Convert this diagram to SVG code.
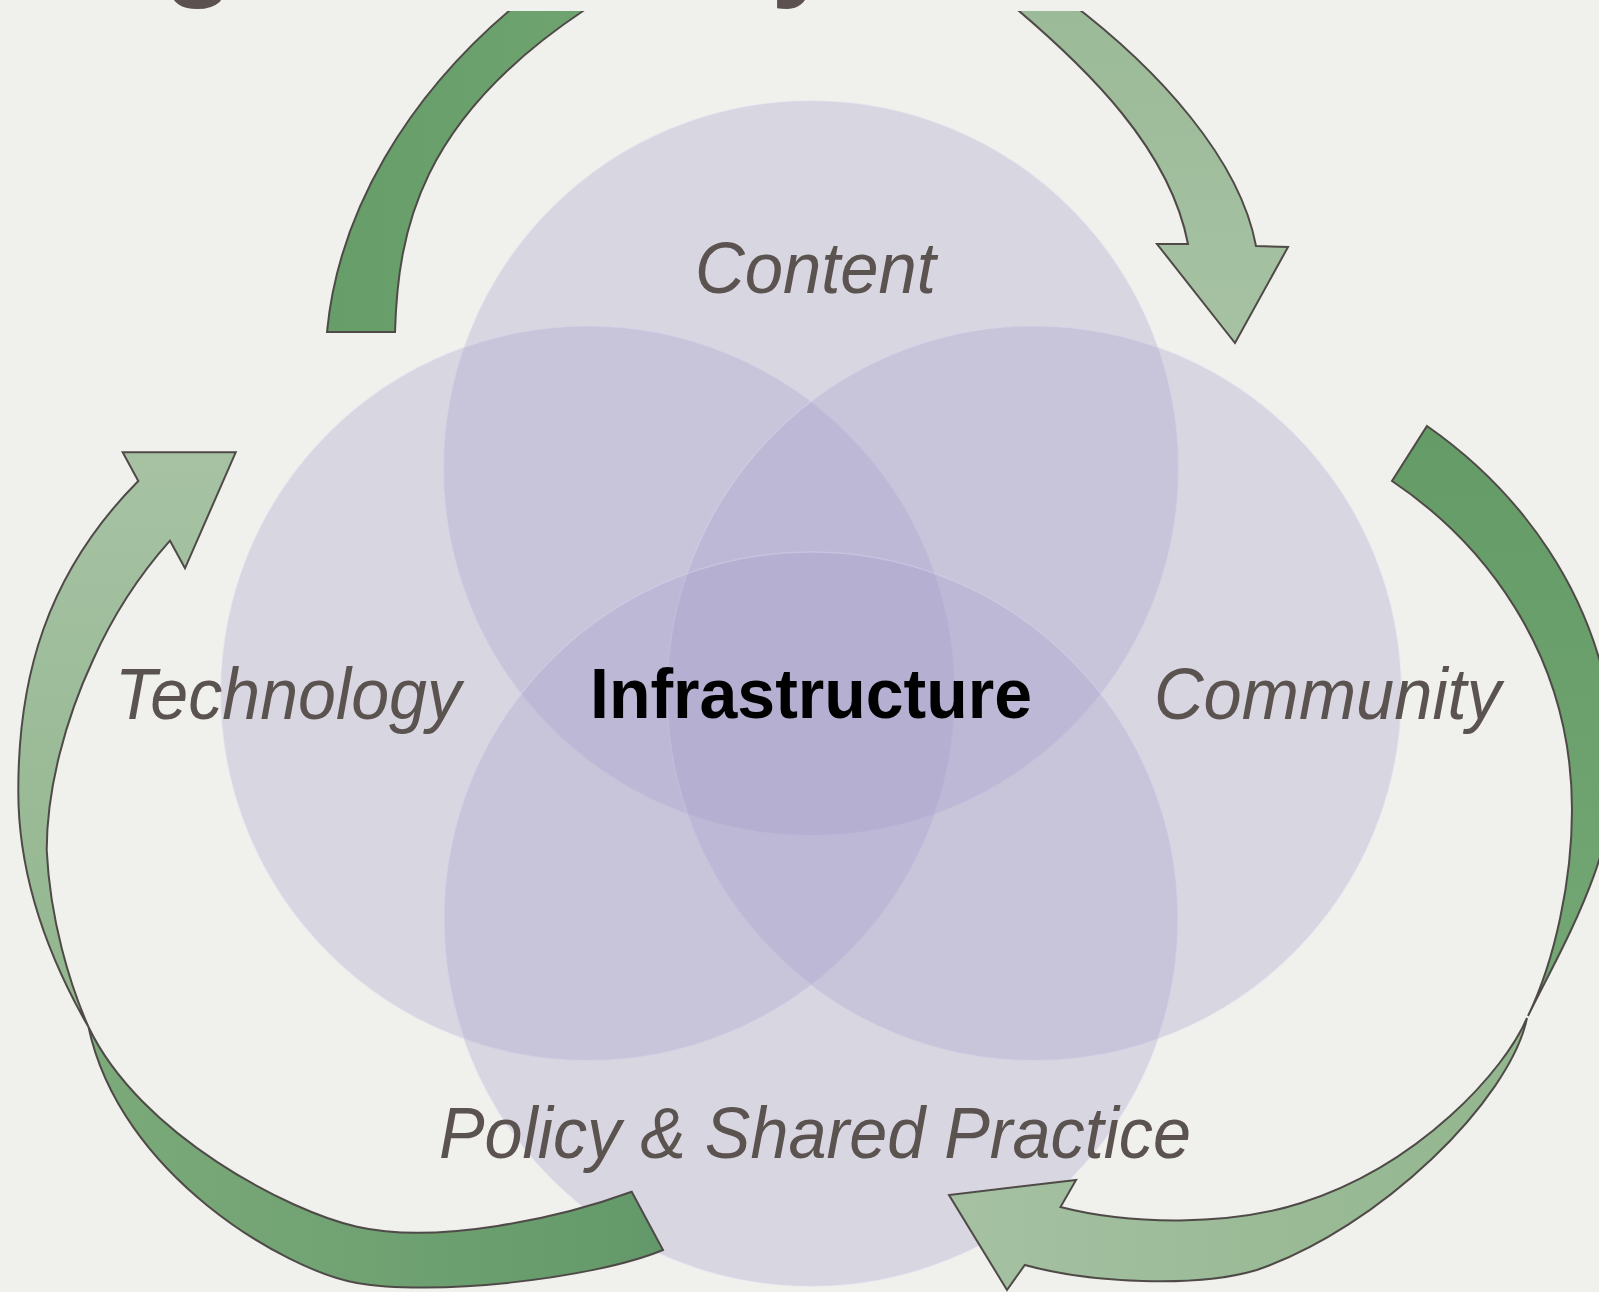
<svg xmlns="http://www.w3.org/2000/svg" width="1599" height="1292" viewBox="0 0 1599 1292">
<defs>
<style>
.circ{fill:#a7a1cb;fill-opacity:.33;stroke:#ddd6ef;stroke-opacity:.4;stroke-width:1.5}
.lbl{font-family:"Liberation Sans",Arial,Helvetica,sans-serif;font-style:italic;font-size:72px;fill:#5b5350}
.core{font-family:"Liberation Sans",Arial,Helvetica,sans-serif;font-weight:bold;font-size:70px;fill:#000}
.title{font-family:"Liberation Sans",Arial,Helvetica,sans-serif;font-weight:bold;font-size:118px;fill:#5b5250}
.arr{stroke:#4f4a48;stroke-width:2;stroke-linejoin:miter}
</style>
<linearGradient id="gAd" x1="0" y1="0" x2="1" y2="0"><stop offset="0" stop-color="#669d68"/><stop offset="1" stop-color="#6fa470"/></linearGradient>
<linearGradient id="gAl" x1="0" y1="0" x2="0" y2="1"><stop offset="0" stop-color="#9bba97"/><stop offset="1" stop-color="#a6c2a3"/></linearGradient>
<linearGradient id="gBd" x1="0" y1="0" x2="0" y2="1"><stop offset="0" stop-color="#649b66"/><stop offset="1" stop-color="#74a775"/></linearGradient>
<linearGradient id="gBl" x1="1" y1="0" x2="0" y2="0"><stop offset="0" stop-color="#92b68e"/><stop offset="1" stop-color="#a5c1a2"/></linearGradient>
<linearGradient id="gCd" x1="0" y1="0" x2="1" y2="0"><stop offset="0" stop-color="#7caa7a"/><stop offset="1" stop-color="#63996a"/></linearGradient>
<linearGradient id="gCl" x1="0" y1="1" x2="0" y2="0"><stop offset="0" stop-color="#92b68e"/><stop offset="1" stop-color="#a6c2a3"/></linearGradient>
</defs>
<rect x="0" y="0" width="1599" height="1292" fill="#f0f0ec"/>

<g id="circles">
<circle id="circle-content" class="circ" cx="811" cy="468" r="367"/>
<circle id="circle-technology" class="circ" cx="588" cy="693" r="367"/>
<circle id="circle-community" class="circ" cx="1034" cy="693" r="367"/>
<circle id="circle-policy" class="circ" cx="811" cy="919" r="367"/>
</g>

<g id="connectors">
<g id="arrow-top">
<path class="arr" fill="url(#gAd)" d="M327,332 C338,215 405,95 522,0 L600,0 L583,11 C420,120 398,230 395,332 Z"/>
<path class="arr" fill="url(#gAl)" d="M1006,0 C1090,70 1170,150 1188,244 L1157,244 L1235,343 L1288,247 L1256,246 C1240,160 1160,70 1067,0 Z"/>
</g>
<g id="arrow-right">
<path class="arr" fill="url(#gBd)" d="M1427,426 C1510,484 1605,590 1615,750 C1622,850 1560,950 1528,1016 C1555,960 1572,880 1572,810 C1572,650 1480,540 1392,481 Z"/>
<path class="arr" fill="url(#gBl)" d="M1527,1018 C1505,1070 1420,1165 1301,1203 C1230,1226 1130,1225 1060.5,1207 L1076,1180 L949,1195 L1007,1290 L1024.8,1265 C1090,1283 1196.7,1288 1256.7,1270 C1380,1228 1510,1100 1527,1018 Z"/>
</g>
<g id="arrow-left">
<path class="arr" fill="url(#gCd)" d="M631.7,1191.7 C560,1218 437,1245 357,1226.7 C290,1212 140,1135 88.5,1027 C120,1175 285,1270.2 357,1283 C430,1296 590,1280 663,1250 Z"/>
<path class="arr" fill="url(#gCl)" d="M88.5,1027 C50,960 18,880 18.3,790 C18.3,680 45,575 138.3,481 L122.7,452.3 L235.7,452.3 L185,568.3 L170,540.7 C135,580 110,622 93,660 C65,720 46.7,790 46.7,850 C50,920 70,985 88.5,1027 Z"/>
</g>
</g>

<g id="title">
<rect x="0" y="0" width="1599" height="11" fill="#f0f0ec"/>
<text class="title" x="163" y="-16">g</text>
<text class="title" x="771" y="-16">y</text>
</g>

<g id="node-content"><text class="lbl" x="695" y="293" textLength="241" lengthAdjust="spacingAndGlyphs">Content</text></g>
<g id="node-technology"><text class="lbl" x="115" y="719" textLength="346" lengthAdjust="spacingAndGlyphs">Technology</text></g>
<g id="node-community"><text class="lbl" x="1154" y="719" textLength="347" lengthAdjust="spacingAndGlyphs">Community</text></g>
<g id="node-policy"><text class="lbl" x="439" y="1158" textLength="752" lengthAdjust="spacingAndGlyphs">Policy &amp; Shared Practice</text></g>
<g id="node-infrastructure"><text class="core" x="590" y="718" textLength="442" lengthAdjust="spacingAndGlyphs">Infrastructure</text></g>
</svg>
